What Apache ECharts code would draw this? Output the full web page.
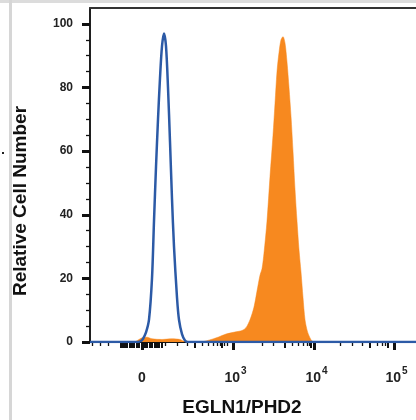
<!DOCTYPE html>
<html>
<head>
<meta charset="utf-8">
<script src="https://cdn.jsdelivr.net/npm/echarts@6/dist/echarts.min.js"></script>
<style>
html,body{margin:0;padding:0;background:#fff;}
#c{width:416px;height:420px;}
</style>
</head>
<body>
<div id="c"></div>
<script>
// display coordinate (logicle-like, 0 at "0" tick)
const blueX = [-52, -4, -1, 1, 4, 7, 10, 12, 14, 16, 18, 20, 22, 24, 26, 28, 30, 32, 35, 37, 40, 43, 46, 274];
const blueY = [0, 0, 0.3, 1, 3, 7, 20, 38, 55, 70, 83, 93, 97, 93, 80, 63, 45, 30, 14, 7, 2.5, 0.5, 0, 0];
const orangeX = [-52, -8, -3, 0, 5, 10, 20, 30, 38, 42, 46, 58, 66, 76, 84, 94, 100, 104, 108, 112, 115, 118, 120, 122, 125, 128, 131, 133, 135, 137, 139, 141, 143, 145, 147, 149, 151, 153, 155, 157, 159, 161, 163, 165, 167, 170, 173, 274];
const orangeY = [0, 0, 0.8, 1.3, 1.5, 1.0, 0.8, 1.0, 0.8, 0.2, 0, 0, 0.5, 1.5, 2.5, 3.2, 3.6, 4.5, 7, 11, 16, 21, 23, 28, 38, 52, 65, 75, 85, 91, 95, 96, 94, 88, 80, 71, 60, 48, 38, 29, 22, 14, 7, 3.8, 2, 0.3, 0, 0];

const xMajorTicks = [0, 91, 172, 252];
const xMajorLabels = ['0', '10|3', '10|4', '10|5'];
const xMediumTicks = [-21, -19, -17, -15, -12, -10, -8, -5, -3, 3, 5, 8, 10, 13, 15, 17, 20, 53, 80, 143, 169, 228, 246];
const xMinorTicks = [-50, -42, -34, 23, 35, 45, 60, 66, 71, 75, 78, 82, 85, 120, 131, 150, 156, 161, 165, 167, 198, 210, 220, 235, 240, 243];
const yMajorTicks = [0, 20, 40, 60, 80, 100];
const yMinorTicks = [5, 10, 15, 25, 30, 35, 45, 50, 55, 65, 70, 75, 85, 90, 95];

const X_MIN = -52, X_MAX = 274, Y_MIN = 0, Y_MAX = 105;

const chart = echarts.init(document.getElementById('c'), null, {renderer: 'canvas'});

function pairs(xs, ys) { return xs.map((x, i) => [x, ys[i]]); }

const FONT = 'Liberation Sans';

function xAx(ticks, len, width, labels, pos) {
  return {
    type: 'value', min: X_MIN, max: X_MAX, position: pos || 'bottom',
    axisLine: {show: true, onZero: false, lineStyle: {color: '#111', width: 1.5}},
    splitLine: {show: false},
    axisTick: {show: !!ticks, customValues: ticks || [], length: len, lineStyle: {color: '#111', width: width}},
    axisLabel: labels ? {
      show: true, customValues: xMajorTicks, margin: 25,
      formatter: function (v) {
        const i = xMajorTicks.indexOf(v);
        const s = xMajorLabels[i] || '';
        if (s.indexOf('|') >= 0) { const p = s.split('|'); return '{b|' + p[0] + '}{s|' + p[1] + '}'; }
        return '{z|' + s + '}';
      },
      rich: {
        z: {fontFamily: FONT, fontWeight: 'bold', fontSize: 14, color: '#222', lineHeight: 18, padding: [8, 0, 0, 0], verticalAlign: 'bottom'},
        b: {fontFamily: FONT, fontWeight: 'bold', fontSize: 14, color: '#222', lineHeight: 18, padding: [0, 0, 0, 5], verticalAlign: 'bottom'},
        s: {fontFamily: FONT, fontWeight: 'bold', fontSize: 10, color: '#222', lineHeight: 18, padding: [0, 0, 9, 1], verticalAlign: 'bottom'}
      }
    } : {show: false}
  };
}

function yAx(ticks, len, width, labels) {
  return {
    type: 'value', min: Y_MIN, max: Y_MAX, position: 'left',
    axisLine: {show: true, onZero: false, lineStyle: {color: '#111', width: 1.5}},
    splitLine: {show: false},
    axisTick: {show: true, customValues: ticks, length: len, lineStyle: {color: '#111', width: width}},
    axisLabel: labels ? {show: true, customValues: yMajorTicks, margin: 17,
      fontFamily: FONT, fontWeight: 'bold', fontSize: 12, color: '#222'} : {show: false}
  };
}

chart.setOption({
  animation: false,
  backgroundColor: '#fff',
  grid: {left: 90, right: 0, top: 8, bottom: 78},
  xAxis: [
    xAx(xMajorTicks, 8, 3, true),
    xAx(xMediumTicks, 6, 2, false),
    xAx(xMinorTicks, 4, 1.3, false),
    Object.assign(xAx(null, 0, 0, false, 'top'), {axisLine: {show: true, onZero: false, lineStyle: {color: '#333', width: 2}}})
  ],
  yAxis: [
    yAx(yMajorTicks, 8, 3, true),
    yAx(yMinorTicks, 4, 1.3, false)
  ],
  series: [
    {
      type: 'line', data: pairs(orangeX, orangeY), smooth: 0.3, symbol: 'none',
      lineStyle: {width: 0.5, color: '#f7891f'},
      areaStyle: {color: '#f7891f', opacity: 1},
      z: 2
    },
    {
      type: 'line', data: pairs(blueX, blueY), smooth: 0.3, symbol: 'none',
      lineStyle: {width: 2.5, color: '#2c5aa6'},
      z: 3
    }
  ],
  graphic: [
    {type: 'rect', shape: {x: 0, y: 0, width: 416, height: 3}, style: {fill: '#dcdcdc'}, z: 100},
    {type: 'rect', shape: {x: 9, y: 0, width: 3, height: 420}, style: {fill: '#d6d6d6'}, z: 100},
    {type: 'rect', shape: {x: 2, y: 152, width: 2, height: 2}, style: {fill: '#222'}, z: 100},
    {type: 'text', x: 21, y: 201, rotation: Math.PI / 2,
      style: {text: 'Relative Cell Number', fontFamily: FONT, fontWeight: 'bold', fontSize: 19, fill: '#111', align: 'center', verticalAlign: 'middle'}},
    {type: 'text', x: 242, y: 408,
      style: {text: 'EGLN1/PHD2', fontFamily: FONT, fontWeight: 'bold', fontSize: 19, fill: '#111', align: 'center', verticalAlign: 'middle'}}
  ]
});
</script>
</body>
</html>
